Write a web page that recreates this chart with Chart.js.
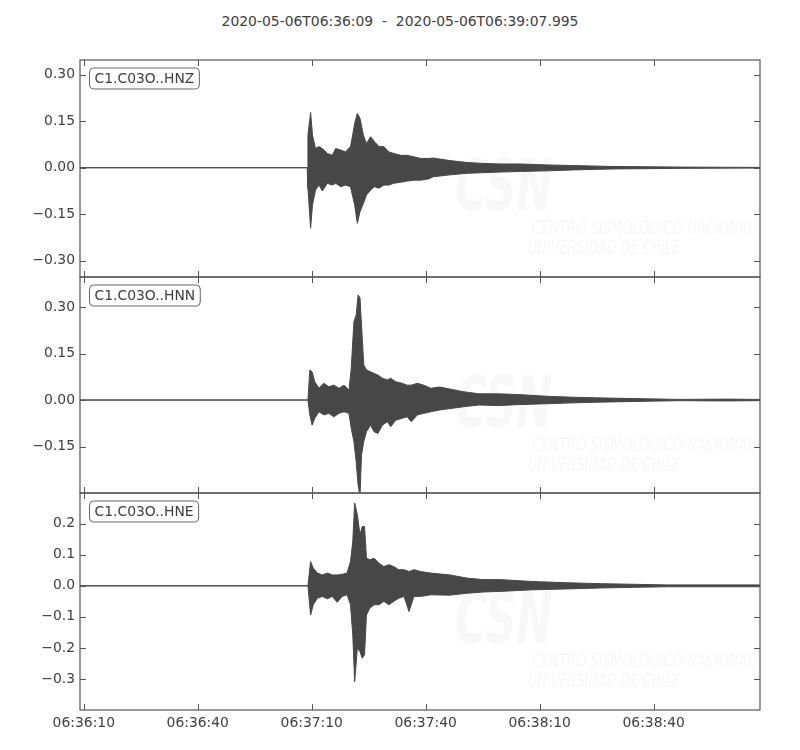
<!DOCTYPE html>
<html>
<head>
<meta charset="utf-8">
<script src="https://cdn.jsdelivr.net/npm/chart.js@4.4.1/dist/chart.umd.min.js"></script>
<style>
  body { margin: 0; background: #fff; }
  #wrap { position: relative; width: 800px; height: 750px; }
  #wrap canvas { position: absolute; left: 0; top: 0; }
  #title {
    position: absolute; top: 13px; left: 0; width: 800px;
    text-align: center; white-space: pre;
    font: 13.9px "DejaVu Sans"; color: #404040;
  }
</style>
</head>
<body>
<div id="wrap">
  <div id="title">2020-05-06T06:36:09  -  2020-05-06T06:39:07.995</div>
  <canvas id="c0" width="800" height="750"></canvas>
  <canvas id="c1" width="800" height="750"></canvas>
  <canvas id="c2" width="800" height="750"></canvas>
</div>
<script>
// seconds after 2020-05-06T06:36:09
const xTicks = [1, 31, 61, 91, 121, 151];
const xTickLabels = ['06:36:10', '06:36:40', '06:37:10', '06:37:40', '06:38:10', '06:38:40'];
const endTime = 178.995;

const channels = ['C1.C03O..HNZ', 'C1.C03O..HNN', 'C1.C03O..HNE'];

// envelope of each trace (max / min amplitude)
const timesZ = [0, 59.8, 60.0, 60.7, 61.2, 62.0, 62.9, 63.8, 65.1, 66.4, 67.3, 68.6, 69.9, 71.2, 71.7,
  72.3, 73.0, 73.7, 74.6, 75.4, 76.5, 77.5, 78.7, 80.0, 81.3, 82.6, 84.4, 86.1, 87.9, 89.7,
  91.8, 93.0, 97.4, 101.8, 106.0, 110.5, 116.0, 123.0, 130.0, 140.0, 150.0, 158.0, 179.0];
const upperZ = [0, 0, 0.105, 0.178, 0.105, 0.062, 0.068, 0.062, 0.046, 0.040, 0.062, 0.057, 0.051, 0.068, 0.100,
  0.143, 0.175, 0.159, 0.105, 0.078, 0.100, 0.084, 0.068, 0.068, 0.051, 0.046, 0.040, 0.040, 0.035, 0.030,
  0.030, 0.031, 0.023, 0.017, 0.014, 0.012, 0.012, 0.009, 0.007, 0.004, 0.003, 0.002, 0.001];
const lowerZ = [0, 0, -0.066, -0.195, -0.120, -0.072, -0.056, -0.075, -0.050, -0.056, -0.050, -0.061, -0.056, -0.061, -0.088,
  -0.120, -0.179, -0.142, -0.115, -0.088, -0.072, -0.061, -0.066, -0.056, -0.056, -0.050, -0.047, -0.043, -0.040, -0.040,
  -0.036, -0.029, -0.023, -0.018, -0.016, -0.014, -0.012, -0.010, -0.007, -0.004, -0.003, -0.002, -0.001];

const timesN = [0, 60.0, 60.5, 61.1, 61.8, 62.9, 64.2, 65.5, 66.8, 68.2, 69.5, 70.8, 71.4, 72.1, 72.7,
  73.2, 73.7, 74.1, 74.7, 75.4, 76.5, 77.4, 78.4, 79.6, 80.9, 81.8, 83.1, 84.8, 86.1, 87.2,
  88.8, 90.5, 92.3, 94.7, 100.8, 105.0, 110.0, 115.0, 123.0, 130.0, 136.0, 149.0, 158.0, 170.0, 179.0];
const upperN = [0, 0, 0.097, 0.091, 0.059, 0.038, 0.054, 0.043, 0.048, 0.038, 0.048, 0.032, 0.102, 0.253, 0.274,
  0.339, 0.330, 0.242, 0.113, 0.097, 0.091, 0.086, 0.081, 0.070, 0.065, 0.070, 0.059, 0.054, 0.048, 0.048,
  0.054, 0.048, 0.038, 0.042, 0.027, 0.020, 0.020, 0.018, 0.012, 0.009, 0.007, 0.004, 0.002, 0.003, 0.002];
const lowerN = [0, 0, -0.048, -0.081, -0.059, -0.038, -0.048, -0.043, -0.054, -0.043, -0.038, -0.043, -0.091, -0.134, -0.199,
  -0.274, -0.310, -0.177, -0.134, -0.102, -0.081, -0.102, -0.108, -0.081, -0.070, -0.086, -0.065, -0.059, -0.054, -0.070,
  -0.048, -0.043, -0.038, -0.032, -0.022, -0.016, -0.018, -0.015, -0.012, -0.009, -0.007, -0.004, -0.002, -0.003, -0.002];

const timesE = [0, 60.0, 60.7, 61.4, 62.5, 63.8, 65.1, 66.4, 67.7, 69.0, 70.3, 71.2, 71.8, 72.3, 73.0,
  73.7, 74.3, 74.9, 75.4, 76.3, 77.4, 78.7, 80.0, 81.3, 82.6, 83.9, 85.3, 86.6, 87.9, 89.7,
  92.3, 97.4, 101.8, 106.0, 110.5, 119.0, 128.0, 137.0, 145.5, 154.5, 179.0];
const upperE = [0, 0, 0.078, 0.057, 0.041, 0.035, 0.041, 0.035, 0.035, 0.037, 0.041, 0.078, 0.143, 0.267, 0.229,
  0.165, 0.191, 0.191, 0.089, 0.084, 0.089, 0.073, 0.062, 0.068, 0.062, 0.052, 0.052, 0.046, 0.052, 0.046,
  0.041, 0.035, 0.025, 0.020, 0.020, 0.014, 0.010, 0.007, 0.005, 0.003, 0.003];
const lowerE = [0, 0, -0.094, -0.061, -0.040, -0.034, -0.042, -0.034, -0.053, -0.034, -0.029, -0.061, -0.158, -0.309, -0.201,
  -0.212, -0.233, -0.222, -0.094, -0.072, -0.061, -0.061, -0.050, -0.061, -0.050, -0.040, -0.034, -0.083, -0.034, -0.034,
  -0.029, -0.030, -0.024, -0.020, -0.018, -0.013, -0.010, -0.007, -0.005, -0.003, -0.003];

// y axes
const yTicksZ = [0.30, 0.15, 0, -0.15, -0.30];
const yTicksN = [0.30, 0.15, 0, -0.15];
const yTicksE = [0.2, 0.1, 0, -0.1, -0.2, -0.3];
const yRanges = [[-0.352, 0.347], [-0.300, 0.397], [-0.400, 0.299]];
const yDecimals = [2, 2, 1];

const traceColor = '#474747';
const textColor = '#404040';
const FONT = { family: 'DejaVu Sans', size: 13.9 };

// panel edges in page pixels
const panelTop = [60, 277, 493];
const panelBottom = [277, 493, 710];

function fmt(v, d) {
  const s = Math.abs(v).toFixed(d);
  return (v < -1e-9 ? '\u2212' : '') + s;
}

// frame, inward ticks, station label
const framePlugin = {
  id: 'frame',
  beforeDatasetsDraw(chart) {
    // faint CSN watermark
    const a = chart.chartArea, ctx = chart.ctx;
    ctx.save();
    ctx.fillStyle = '#f8f8f8';
    ctx.font = 'italic bold 72px "DejaVu Sans"';
    ctx.translate(a.left + 375, a.top + 150);
    ctx.scale(0.6, 1);
    ctx.fillText('CSN', 0, 0);
    ctx.restore();
    const lines = [['CENTRO SISMOLÓGICO NACIONAL', 452, 174, 223], ['UNIVERSIDAD DE CHILE', 448, 194, 152]];
    lines.forEach(([t, dx, dy, w]) => {
      ctx.save();
      ctx.fillStyle = '#f7f7f7';
      ctx.font = 'italic 19px "DejaVu Sans"';
      const m = ctx.measureText(t).width;
      ctx.translate(a.left + dx, a.top + dy);
      ctx.scale(w / m, 1);
      ctx.fillText(t, 0, 0);
      ctx.restore();
    });
  },
  afterDraw(chart, args, opts) {
    const a = chart.chartArea, ctx = chart.ctx;
    const xs = chart.scales.x, ys = chart.scales.y;
    ctx.save();
    ctx.strokeStyle = '#555';
    ctx.lineWidth = 1.2;
    ctx.strokeRect(a.left, a.top, a.right - a.left, a.bottom - a.top);
    ctx.lineWidth = 1;
    ctx.beginPath();
    opts.yTicks.forEach(v => {
      const y = Math.round(ys.getPixelForValue(v)) + 0.5;
      ctx.moveTo(a.left, y); ctx.lineTo(a.left + 6, y);
      ctx.moveTo(a.right, y); ctx.lineTo(a.right - 6, y);
    });
    xTicks.forEach(v => {
      const x = Math.round(xs.getPixelForValue(v)) + 0.5;
      ctx.moveTo(x, a.top); ctx.lineTo(x, a.top + 6);
      ctx.moveTo(x, a.bottom); ctx.lineTo(x, a.bottom - 6);
    });
    ctx.stroke();

    // station label box
    ctx.font = FONT.size + 'px "DejaVu Sans"';
    const w = ctx.measureText(opts.label).width;
    const bx = a.left + 9.5, by = a.top + 8, bw = w + 10, bh = 21;
    ctx.fillStyle = '#fff';
    ctx.strokeStyle = '#666';
    ctx.beginPath();
    ctx.roundRect(bx, by, bw, bh, 4);
    ctx.fill();
    ctx.stroke();
    ctx.fillStyle = textColor;
    ctx.textBaseline = 'middle';
    ctx.fillText(opts.label, bx + 5, by + bh / 2 + 0.5);
    ctx.restore();
  }
};

function makePanel(i, times, upper, lower, yTicks) {
  const last = i === 2;
  new Chart(document.getElementById('c' + i), {
    type: 'line',
    data: {
      datasets: [{
        data: times.map((t, k) => ({ x: t, y: upper[k] })),
        borderColor: traceColor,
        backgroundColor: traceColor,
        fill: '+1'
      }, {
        data: times.map((t, k) => ({ x: t, y: lower[k] })),
        borderColor: traceColor,
        backgroundColor: traceColor,
        fill: false
      }]
    },
    options: {
      responsive: false,
      animation: false,
      events: [],
      layout: { padding: { left: 0, right: 40, top: panelTop[i], bottom: last ? 0 : 750 - panelBottom[i] } },
      elements: { point: { radius: 0 }, line: { borderWidth: 1, tension: 0 } },
      plugins: {
        legend: { display: false },
        tooltip: { enabled: false },
        frame: { label: channels[i], yTicks: yTicks }
      },
      scales: {
        x: {
          type: 'linear',
          min: 0,
          max: endTime,
          display: last,
          afterBuildTicks: s => { s.ticks = xTicks.map(v => ({ value: v })); },
          afterFit: s => { s.height = last ? 40 : 0; },
          grid: { display: false, drawTicks: false },
          border: { display: false },
          ticks: {
            autoSkip: false,
            maxRotation: 0,
            padding: 5,
            color: textColor,
            font: FONT,
            callback: v => xTickLabels[xTicks.indexOf(v)]
          }
        },
        y: {
          min: yRanges[i][0],
          max: yRanges[i][1],
          afterBuildTicks: s => { s.ticks = yTicks.map(v => ({ value: v })); },
          afterFit: s => { s.width = 80; },
          grid: { display: false, drawTicks: false },
          border: { display: false },
          ticks: {
            padding: 5,
            color: textColor,
            font: FONT,
            callback: v => fmt(v, yDecimals[i])
          }
        }
      }
    },
    plugins: [framePlugin]
  });
}

makePanel(0, timesZ, upperZ, lowerZ, yTicksZ);
makePanel(1, timesN, upperN, lowerN, yTicksN);
makePanel(2, timesE, upperE, lowerE, yTicksE);
</script>
</body>
</html>
